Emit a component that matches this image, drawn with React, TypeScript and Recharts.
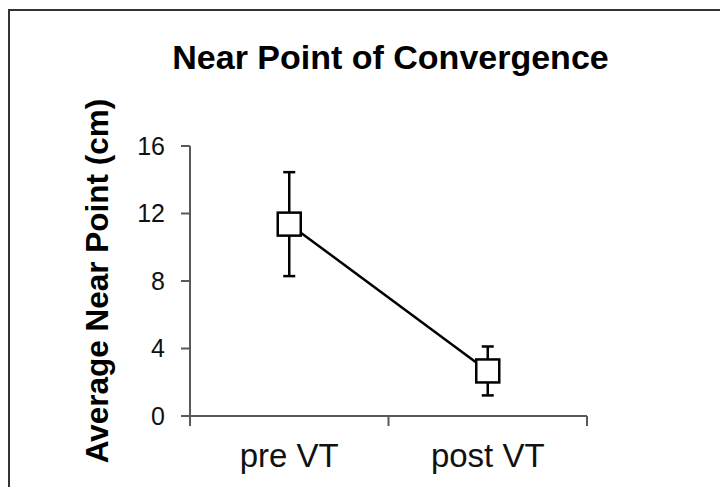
import React from 'react';
import { LineChart, Line, XAxis, YAxis, ErrorBar } from 'recharts';

const categories = ['pre VT', 'post VT'];
const means = [11.37, 2.67];
const errors = [3.08, 1.45];
const yTicks = [0, 4, 8, 12, 16];

const data = categories.map((c, i) => ({ name: c, value: means[i], err: errors[i] }));

const FONT = '"Liberation Sans", Arial, sans-serif';
const AXIS = '#595959';

const SquareDot = (props: any) => {
  const { cx, cy } = props;
  if (cx == null || cy == null) return null;
  const s = 23;
  return (
    <rect x={cx - s / 2} y={cy - s / 2} width={s} height={s} fill="#fff" stroke="#000" strokeWidth={2.5} />
  );
};

const XTick = (props: any) => {
  const { x, y, payload, index, visibleTicksCount } = props;
  const off = payload && payload.offset ? payload.offset : 0;
  const last = index === visibleTicksCount - 1;
  return (
    <g>
      <line x1={x - off} y1={y} x2={x - off} y2={y + 10} stroke={AXIS} strokeWidth={2} />
      {last && <line x1={x + off} y1={y} x2={x + off} y2={y + 10} stroke={AXIS} strokeWidth={2} />}
      <text x={x} y={y + 51} textAnchor="middle" fontSize={33} fontFamily={FONT} fill="#111">
        {payload.value}
      </text>
    </g>
  );
};

const YLabel = (props: any) => {
  const cx = 89;
  const cy = 273;
  return (
    <text
      x={cx}
      y={cy}
      transform={`rotate(-90, ${cx}, ${cy})`}
      textAnchor="middle"
      dominantBaseline="central"
      fontSize={31.5}
      fontWeight="bold"
      fontFamily={FONT}
      fill="#000"
    >
      Average Near Point (cm)
    </text>
  );
};

export default function App() {
  return (
    <div style={{ position: 'relative', width: 720, height: 479, overflow: 'hidden', background: '#fff' }}>
      <div
        style={{
          position: 'absolute',
          left: 0,
          top: 1,
          width: 900,
          height: 900,
          borderTop: '2px solid #333',
          borderLeft: '2px solid #333',
          boxSizing: 'border-box',
        }}
      />
      <div
        style={{
          position: 'absolute',
          left: 0,
          width: 765,
          top: 29,
          textAlign: 'center',
          fontFamily: FONT,
          fontWeight: 'bold',
          fontSize: 34,
          color: '#000',
          lineHeight: '40px',
        }}
      >
        Near Point of Convergence
      </div>
      <div style={{ position: 'absolute', left: 0, top: 0 }}>
        <LineChart width={720} height={479} data={data} margin={{ top: 138, right: 141, bottom: 31, left: 122 }}>
          <XAxis
            dataKey="name"
            scale="band"
            stroke={AXIS}
            strokeWidth={2}
            tickLine={false}
            tickSize={0}
            tickMargin={0}
            height={40}
            interval={0}
            tick={<XTick />}
          />
          <YAxis
            width={60}
            domain={[0, 16]}
            ticks={yTicks}
            stroke={AXIS}
            strokeWidth={2}
            tickSize={9}
            tickMargin={16}
            tick={{ fontSize: 25, fontFamily: FONT, fill: '#111' }}
            tickLine={{ stroke: AXIS, strokeWidth: 2 }}
            label={<YLabel />}
            interval={0}
          />
          <Line
            type="linear"
            dataKey="value"
            stroke="#000"
            strokeWidth={2.5}
            dot={<SquareDot />}
            activeDot={false}
            isAnimationActive={false}
          >
            <ErrorBar dataKey="err" direction="y" width={6} stroke="#000" strokeWidth={2.5} />
          </Line>
        </LineChart>
      </div>
    </div>
  );
}
